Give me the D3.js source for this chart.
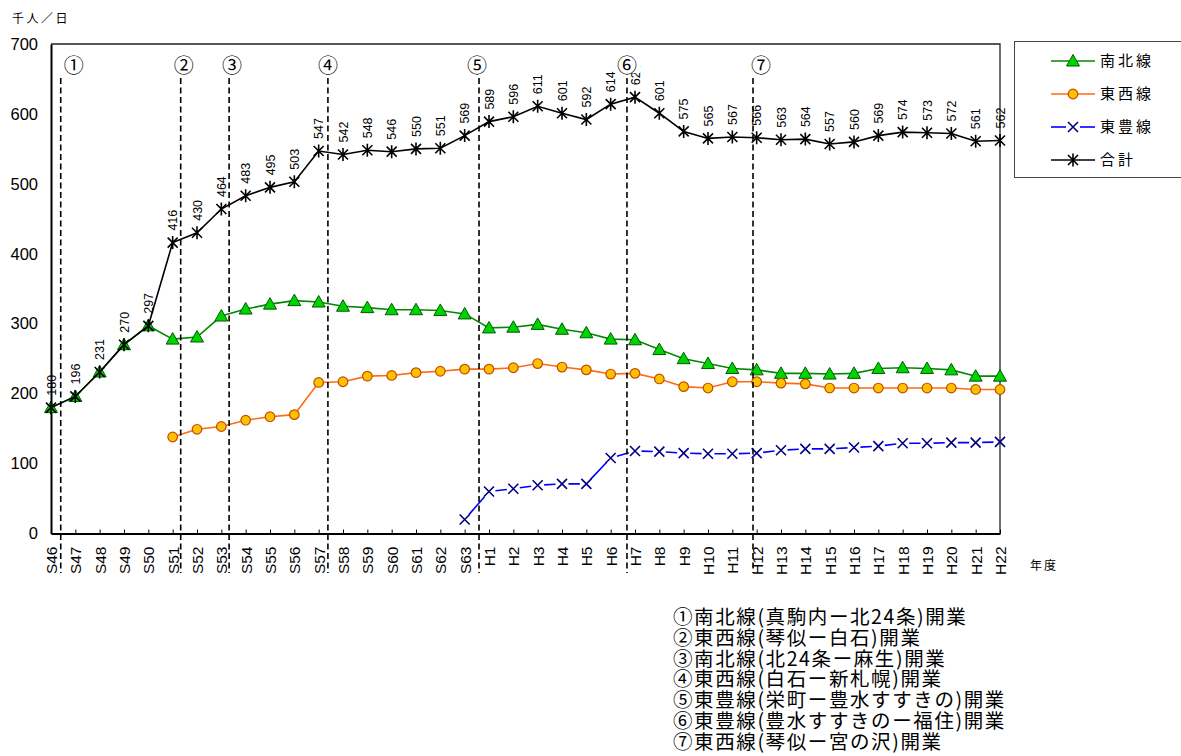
<!DOCTYPE html>
<html>
<head>
<meta charset="utf-8">
<script src="https://cdn.jsdelivr.net/npm/d3@7"></script>
<style>
  body { margin: 0; background: #fff; }
  svg { display: block; font-family: "Noto Sans CJK JP", "Noto Sans", sans-serif; }
</style>
</head>
<body>
<div id="chart"></div>
<script>
// fiscal years S46..S63, H1..H22
var YEARS = ["S46","S47","S48","S49","S50","S51","S52","S53","S54","S55","S56","S57","S58","S59","S60","S61","S62","S63",
             "H1","H2","H3","H4","H5","H6","H7","H8","H9","H10","H11","H12","H13","H14","H15","H16","H17","H18","H19","H20","H21","H22"];

var NANBOKU = [180,196,231,270,297,278,281,311,321,328,333,331,325,323,320,320,319,314,
               294,295,299,292,287,278,277,263,250,243,236,234,229,229,228,229,236,237,236,234,225,225];
var TOZAI   = [null,null,null,null,null,138,149,153,162,167,170,216,217,225,226,230,232,235,
               235,237,243,238,234,228,229,221,210,208,217,217,215,214,208,208,208,208,208,208,206,206];
var TOHO    = [null,null,null,null,null,null,null,null,null,null,null,null,null,null,null,null,null,20,
               60,64,69,71,71,108,118,117,115,114,114,115,119,121,121,123,125,129,129,130,130,131];
var TOTAL   = [180,196,231,270,297,416,430,464,483,495,503,547,542,548,546,550,551,569,
               589,596,611,601,592,614,624,601,575,565,567,566,563,564,557,560,569,574,573,572,561,562];

var Y_TICKS = [0,100,200,300,400,500,600,700];

// opening events, position in category steps from S46
var EVENT_POS = [0.4, 5.33, 7.32, 11.38, 17.59, 23.67, 28.85];
var EVENT_MARK = ["①","②","③","④","⑤","⑥","⑦"];
var EVENT_NOTES = ["①南北線(真駒内ー北24条)開業",
                   "②東西線(琴似ー白石)開業",
                   "③南北線(北24条ー麻生)開業",
                   "④東西線(白石ー新札幌)開業",
                   "⑤東豊線(栄町ー豊水すすきの)開業",
                   "⑥東豊線(豊水すすきのー福住)開業",
                   "⑦東西線(琴似ー宮の沢)開業"];

var W = 1181, H = 756,
    LEFT = 51, RIGHT = 1000, TOP = 44, BOTTOM = 533.5;

var svg = d3.select("#chart").append("svg").attr("width", W).attr("height", H);
svg.append("rect").attr("width", W).attr("height", H).attr("fill", "#fff");

var x = d3.scalePoint().domain(YEARS).range([LEFT, RIGHT]).padding(0);
var y = d3.scaleLinear().domain([0, 700]).range([BOTTOM, TOP]);
var xAt = function(p) { return LEFT + p * x.step(); };

// plot frame
svg.append("path")
  .attr("d", "M" + LEFT + "," + TOP + "H" + RIGHT + "V" + BOTTOM)
  .attr("fill", "none").attr("stroke", "#222").attr("stroke-width", 1.3);

// axes
var yAxis = svg.append("g").attr("transform", "translate(" + LEFT + ",0)")
  .call(d3.axisLeft(y).tickValues(Y_TICKS).tickSize(0).tickPadding(13));
yAxis.select(".domain").attr("stroke", "#000").attr("stroke-width", 2);
yAxis.selectAll("text").attr("font-size", 16.5).attr("fill", "#000")
  .attr("font-family", "Liberation Sans, sans-serif");

var xAxis = svg.append("g").attr("transform", "translate(0," + BOTTOM + ")")
  .call(d3.axisBottom(x).tickSize(-4).tickSizeOuter(0));
xAxis.select(".domain").attr("stroke", "#000").attr("stroke-width", 2);
xAxis.selectAll("line").attr("stroke", "#000");
xAxis.selectAll("text")
  .attr("font-family", "Liberation Sans, sans-serif")
  .attr("font-size", 15.5).attr("fill", "#000")
  .attr("transform", "rotate(-90)")
  .attr("text-anchor", "end")
  .attr("x", -13).attr("y", 0).attr("dy", "0.36em");

// axis titles
svg.append("text").attr("x", 12).attr("y", 23).attr("font-size", 12)
  .attr("letter-spacing", 2.5).text("千人／日");
svg.append("text").attr("x", 1030).attr("y", 570).attr("font-size", 12)
  .attr("letter-spacing", 2).text("年度");

function pts(vals) {
  return YEARS.map(function(k, i) { return { k: k, v: vals[i] }; })
    .filter(function(d) { return d.v != null; });
}
var line = d3.line().x(function(d) { return x(d.k); }).y(function(d) { return y(d.v); });

var triPath = "M0,-6.5L6.5,5L-6.5,5Z";
function drawMarker(g, type) {
  if (type === "tri") {
    g.append("path").attr("d", triPath).attr("fill", "#00d400").attr("stroke", "#005a00").attr("stroke-width", 1);
  } else if (type === "circle") {
    g.append("circle").attr("r", 4.8).attr("fill", "#ffc000").attr("stroke", "#c24c00").attr("stroke-width", 1.2);
  } else if (type === "x") {
    g.append("path").attr("d", "M-5,-5L5,5M-5,5L5,-5").attr("stroke", "#000080").attr("stroke-width", 1.6).attr("fill", "none");
  } else if (type === "star") {
    g.append("path").attr("d", "M-5,-5L5,5M-5,5L5,-5M0,-6.5V6.5").attr("stroke", "#000").attr("stroke-width", 1.6).attr("fill", "none");
  }
}

var SERIES = [
  { name: "南北線", vals: NANBOKU, color: "#008a00", marker: "tri" },
  { name: "東西線", vals: TOZAI, color: "#ff6a13", marker: "circle" },
  { name: "東豊線", vals: TOHO, color: "#0000ff", marker: "x", dashed: true },
  { name: "合計", vals: TOTAL, color: "#000", marker: "star" }
];

SERIES.forEach(function(s) {
  var data = pts(s.vals);
  if (s.dashed) {
    // one centred dash between each pair of markers
    d3.pairs(data).forEach(function(p) {
      var x0 = x(p[0].k), y0 = y(p[0].v), x1 = x(p[1].k), y1 = y(p[1].v);
      var L = Math.hypot(x1 - x0, y1 - y0), d = L - 13;
      svg.append("line").attr("x1", x0).attr("y1", y0).attr("x2", x1).attr("y2", y1)
        .attr("stroke", s.color).attr("stroke-width", 1.6)
        .attr("stroke-dasharray", "0," + ((L - d) / 2) + "," + d + "," + L);
    });
  } else {
    svg.append("path").datum(data).attr("d", line)
      .attr("fill", "none").attr("stroke", s.color).attr("stroke-width", 1.6);
  }
  data.forEach(function(d) {
    var g = svg.append("g").attr("transform", "translate(" + x(d.k) + "," + y(d.v) + ")");
    drawMarker(g, s.marker);
  });
});

// value labels for the total
svg.append("g").selectAll("text").data(pts(TOTAL)).join("text")
  .attr("font-family", "Liberation Sans, sans-serif")
  .attr("font-size", 12.5)
  .attr("transform", function(d) { return "translate(" + x(d.k) + "," + (y(d.v) - 12) + ") rotate(-90)"; })
  .attr("dy", "0.36em")
  .text(function(d) { return d.v; });

// opening events
var EVENT_DX = [13, 3, 3, 0, -2, 0, 8];
EVENT_POS.forEach(function(p, i) {
  var ex = xAt(p);
  svg.append("line").attr("x1", ex).attr("x2", ex).attr("y1", 78).attr("y2", 573)
    .attr("stroke", "#000").attr("stroke-width", 1.6).attr("stroke-dasharray", "6,3.5");
  var g = svg.append("g").attr("transform", "translate(" + (ex + EVENT_DX[i]) + ",66)");
  g.append("rect").attr("x", -10).attr("y", -10).attr("width", 23).attr("height", 17).attr("fill", "#fff");
  g.append("text").attr("text-anchor", "middle").attr("dy", "0.36em").attr("font-size", 20).text(EVENT_MARK[i]);
});

// legend
var lg = svg.append("g");
lg.append("rect").attr("x", 1014.5).attr("y", 41.5).attr("width", 180).attr("height", 136)
  .attr("fill", "#fff").attr("stroke", "#444").attr("stroke-width", 1);
SERIES.forEach(function(s, i) {
  var ly = 61 + i * 33;
  if (s.dashed) {
    lg.append("line").attr("x1", 1051).attr("x2", 1066).attr("y1", ly).attr("y2", ly).attr("stroke", s.color).attr("stroke-width", 1.6);
    lg.append("line").attr("x1", 1080).attr("x2", 1095).attr("y1", ly).attr("y2", ly).attr("stroke", s.color).attr("stroke-width", 1.6);
  } else {
    lg.append("line").attr("x1", 1051).attr("x2", 1095).attr("y1", ly).attr("y2", ly).attr("stroke", s.color).attr("stroke-width", 1.6);
  }
  drawMarker(lg.append("g").attr("transform", "translate(1073," + ly + ")"), s.marker);
  lg.append("text").attr("x", 1100).attr("y", ly).attr("dy", "0.36em")
    .attr("font-size", 15).attr("letter-spacing", 3).text(s.name);
});

// notes
svg.append("g").selectAll("text").data(EVENT_NOTES).join("text")
  .attr("x", 673).attr("y", function(d, i) { return 617 + i * 20.8; })
  .attr("dy", "0.36em").attr("font-size", 19.5).attr("letter-spacing", 1.6)
  .text(function(d) { return d; });
</script>
</body>
</html>
